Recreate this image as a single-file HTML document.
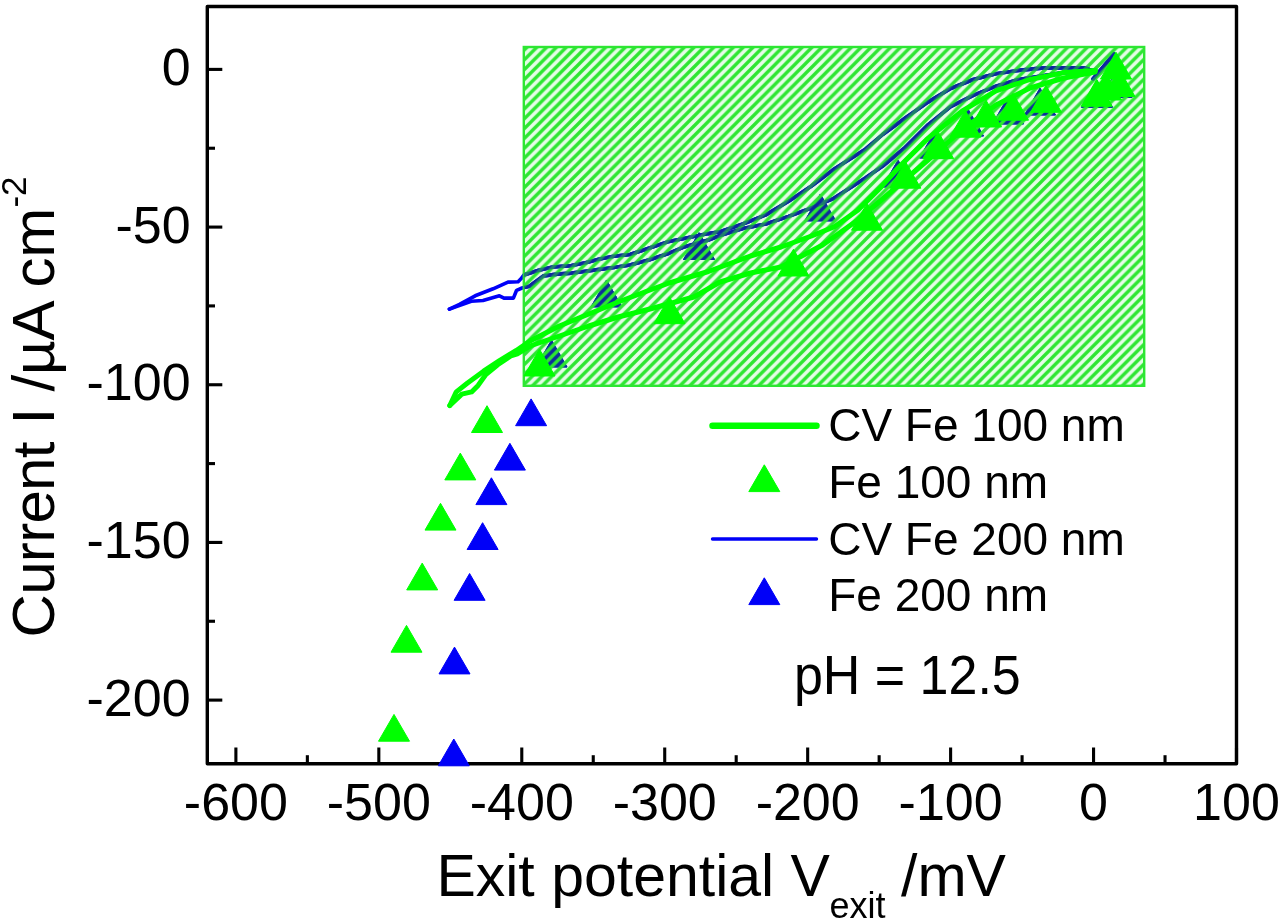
<!DOCTYPE html>
<html><head><meta charset="utf-8"><style>html,body{margin:0;padding:0;background:#fff;overflow:hidden}svg{display:block;will-change:transform}text{fill:#000}</style></head>
<body><svg width="1280" height="918" viewBox="0 0 1280 918" font-family='"Liberation Sans", sans-serif'><defs><clipPath id="boxclip"><rect x="523.8" y="47.0" width="620.4000000000001" height="338.8"/></clipPath><pattern id="hatch" patternUnits="userSpaceOnUse" width="9.83" height="9.83" patternTransform="translate(0,4.1)">
<rect x="0" y="0" width="9.83" height="9.83" fill="#00e614" fill-opacity="0.1"/><path d="M-9.83,9.83 L9.83,-9.83 M0,19.66 L19.66,0 M-9.83,19.66 L19.66,-9.83" stroke="#2de632" stroke-width="3.4"/></pattern></defs><g id="all"><rect x="0" y="0" width="1280" height="918" fill="#fff"/>
<rect x="207.3" y="6.5" width="1029.2" height="757.2" fill="none" stroke="#000" stroke-width="3.4" stroke-linejoin="round"/>
<line x1="235.89" y1="763.7" x2="235.89" y2="747.5" stroke="#000" stroke-width="3.1"/>
<text x="235.89" y="820" font-size="52" text-anchor="middle">-600</text>
<line x1="307.36" y1="763.7" x2="307.36" y2="755.2" stroke="#000" stroke-width="3.1"/>
<line x1="378.83" y1="763.7" x2="378.83" y2="747.5" stroke="#000" stroke-width="3.1"/>
<text x="378.83" y="820" font-size="52" text-anchor="middle">-500</text>
<line x1="450.31" y1="763.7" x2="450.31" y2="755.2" stroke="#000" stroke-width="3.1"/>
<line x1="521.78" y1="763.7" x2="521.78" y2="747.5" stroke="#000" stroke-width="3.1"/>
<text x="521.78" y="820" font-size="52" text-anchor="middle">-400</text>
<line x1="593.25" y1="763.7" x2="593.25" y2="755.2" stroke="#000" stroke-width="3.1"/>
<line x1="664.72" y1="763.7" x2="664.72" y2="747.5" stroke="#000" stroke-width="3.1"/>
<text x="664.72" y="820" font-size="52" text-anchor="middle">-300</text>
<line x1="736.19" y1="763.7" x2="736.19" y2="755.2" stroke="#000" stroke-width="3.1"/>
<line x1="807.67" y1="763.7" x2="807.67" y2="747.5" stroke="#000" stroke-width="3.1"/>
<text x="807.67" y="820" font-size="52" text-anchor="middle">-200</text>
<line x1="879.14" y1="763.7" x2="879.14" y2="755.2" stroke="#000" stroke-width="3.1"/>
<line x1="950.61" y1="763.7" x2="950.61" y2="747.5" stroke="#000" stroke-width="3.1"/>
<text x="950.61" y="820" font-size="52" text-anchor="middle">-100</text>
<line x1="1022.08" y1="763.7" x2="1022.08" y2="755.2" stroke="#000" stroke-width="3.1"/>
<line x1="1093.56" y1="763.7" x2="1093.56" y2="747.5" stroke="#000" stroke-width="3.1"/>
<text x="1093.56" y="820" font-size="52" text-anchor="middle">0</text>
<line x1="1165.03" y1="763.7" x2="1165.03" y2="755.2" stroke="#000" stroke-width="3.1"/>
<line x1="1236.50" y1="763.7" x2="1236.50" y2="747.5" stroke="#000" stroke-width="3.1"/>
<text x="1236.50" y="820" font-size="52" text-anchor="middle">100</text>
<line x1="207.3" y1="69.40" x2="222.3" y2="69.40" stroke="#000" stroke-width="3.1"/>
<text x="190.6" y="85.10" font-size="52" text-anchor="end">0</text>
<line x1="207.3" y1="148.24" x2="215.0" y2="148.24" stroke="#000" stroke-width="3.1"/>
<line x1="207.3" y1="227.08" x2="222.3" y2="227.08" stroke="#000" stroke-width="3.1"/>
<text x="190.6" y="242.78" font-size="52" text-anchor="end">-50</text>
<line x1="207.3" y1="305.91" x2="215.0" y2="305.91" stroke="#000" stroke-width="3.1"/>
<line x1="207.3" y1="384.75" x2="222.3" y2="384.75" stroke="#000" stroke-width="3.1"/>
<text x="190.6" y="400.45" font-size="52" text-anchor="end">-100</text>
<line x1="207.3" y1="463.59" x2="215.0" y2="463.59" stroke="#000" stroke-width="3.1"/>
<line x1="207.3" y1="542.43" x2="222.3" y2="542.43" stroke="#000" stroke-width="3.1"/>
<text x="190.6" y="558.13" font-size="52" text-anchor="end">-150</text>
<line x1="207.3" y1="621.26" x2="215.0" y2="621.26" stroke="#000" stroke-width="3.1"/>
<line x1="207.3" y1="700.10" x2="222.3" y2="700.10" stroke="#000" stroke-width="3.1"/>
<text x="190.6" y="715.80" font-size="52" text-anchor="end">-200</text>
<g id="bl" color="#0000f8"><path d="M449.4,309.1 L459.5,304.4 L475.2,295.8 L493.1,288.8 L508.0,282.1 L518.1,281.7 L521.2,278.6 L523.8,275.0 L538.8,270.3 L552.8,267.0 L571.6,265.6 L585.6,262.8 L599.7,259.1 L613.8,256.2 L630.0,254.5 L649.6,248.0 L669.2,241.4 L688.8,237.5 L708.4,233.6 L720.0,231.7 L742.9,224.0 L765.8,214.9 L788.6,201.2 L800.0,193.7 L811.5,186.0 L832.7,170.1 L865.4,149.2 L882.7,134.5 L905.3,118.0 L928.0,102.1 L950.6,88.5 L973.3,79.5 L996.0,73.8 L1018.6,70.4 L1041.2,68.1 L1064.0,67.7 L1086.5,68.1 L1095.6,72.6" fill="none" stroke="currentColor" stroke-width="3.6" stroke-linejoin="round" stroke-linecap="round"/><path d="M449.4,309.1 L471.2,301.2 L483.0,300.5 L499.4,295.8 L504.0,298.1 L513.4,298.1 L516.6,290.3 L522.0,288.0 L529.4,286.2 L543.4,275.9 L557.5,274.1 L571.6,273.1 L585.6,271.2 L599.7,269.4 L613.8,267.5 L630.0,265.0 L649.6,259.7 L669.2,253.2 L684.9,246.7 L708.4,240.1 L720.0,235.5 L742.9,228.6 L765.8,224.0 L788.6,216.4 L805.4,210.3 L820.0,204.2 L832.7,198.9 L865.4,178.0 L882.7,166.0 L905.3,147.4 L928.0,124.8 L950.6,106.6 L973.3,95.3 L996.0,86.2 L1018.6,79.5 L1041.2,76.0 L1064.0,72.6 L1086.5,71.5 L1095.0,70.0" fill="none" stroke="currentColor" stroke-width="3.6" stroke-linejoin="round" stroke-linecap="round"/><path d="M1093.0,79.0 L1104.0,66.0 L1114.0,54.0" fill="none" stroke="currentColor" stroke-width="3.6" stroke-linejoin="round" stroke-linecap="round"/><path d="M531.1,398.9L546.6,425.7L515.6,425.7Z" fill="currentColor" stroke="currentColor" stroke-width="1" stroke-linejoin="round"/><path d="M509.9,443.3L525.4,470.1L494.4,470.1Z" fill="currentColor" stroke="currentColor" stroke-width="1" stroke-linejoin="round"/><path d="M491.4,477.8L506.9,504.6L475.9,504.6Z" fill="currentColor" stroke="currentColor" stroke-width="1" stroke-linejoin="round"/><path d="M482.6,522.7L498.1,549.5L467.1,549.5Z" fill="currentColor" stroke="currentColor" stroke-width="1" stroke-linejoin="round"/><path d="M469.6,573.5L485.1,600.3L454.1,600.3Z" fill="currentColor" stroke="currentColor" stroke-width="1" stroke-linejoin="round"/><path d="M454.5,647.1L470.0,673.9L439.0,673.9Z" fill="currentColor" stroke="currentColor" stroke-width="1" stroke-linejoin="round"/><path d="M453.8,739.0L469.3,765.8L438.3,765.8Z" fill="currentColor" stroke="currentColor" stroke-width="1" stroke-linejoin="round"/><path d="M551.5,340.2L567.0,367.0L536.0,367.0Z" fill="currentColor" stroke="currentColor" stroke-width="1" stroke-linejoin="round"/><path d="M606.5,280.1L622.0,306.9L591.0,306.9Z" fill="currentColor" stroke="currentColor" stroke-width="1" stroke-linejoin="round"/><path d="M699.0,232.7L714.5,259.5L683.5,259.5Z" fill="currentColor" stroke="currentColor" stroke-width="1" stroke-linejoin="round"/><path d="M820.3,194.1L835.8,220.9L804.8,220.9Z" fill="currentColor" stroke="currentColor" stroke-width="1" stroke-linejoin="round"/><path d="M898.0,160.2L913.5,187.0L882.5,187.0Z" fill="currentColor" stroke="currentColor" stroke-width="1" stroke-linejoin="round"/><path d="M935.0,131.2L950.5,158.0L919.5,158.0Z" fill="currentColor" stroke="currentColor" stroke-width="1" stroke-linejoin="round"/><path d="M968.0,109.2L983.5,136.0L952.5,136.0Z" fill="currentColor" stroke="currentColor" stroke-width="1" stroke-linejoin="round"/><path d="M1008.0,97.2L1023.5,124.0L992.5,124.0Z" fill="currentColor" stroke="currentColor" stroke-width="1" stroke-linejoin="round"/><path d="M1040.0,88.2L1055.5,115.0L1024.5,115.0Z" fill="currentColor" stroke="currentColor" stroke-width="1" stroke-linejoin="round"/><path d="M1097.0,80.5L1112.5,107.3L1081.5,107.3Z" fill="currentColor" stroke="currentColor" stroke-width="1" stroke-linejoin="round"/><path d="M1116.5,70.7L1132.0,97.5L1101.0,97.5Z" fill="currentColor" stroke="currentColor" stroke-width="1" stroke-linejoin="round"/></g>
<g clip-path="url(#boxclip)" color="#0e1aa8"><path d="M449.4,309.1 L459.5,304.4 L475.2,295.8 L493.1,288.8 L508.0,282.1 L518.1,281.7 L521.2,278.6 L523.8,275.0 L538.8,270.3 L552.8,267.0 L571.6,265.6 L585.6,262.8 L599.7,259.1 L613.8,256.2 L630.0,254.5 L649.6,248.0 L669.2,241.4 L688.8,237.5 L708.4,233.6 L720.0,231.7 L742.9,224.0 L765.8,214.9 L788.6,201.2 L800.0,193.7 L811.5,186.0 L832.7,170.1 L865.4,149.2 L882.7,134.5 L905.3,118.0 L928.0,102.1 L950.6,88.5 L973.3,79.5 L996.0,73.8 L1018.6,70.4 L1041.2,68.1 L1064.0,67.7 L1086.5,68.1 L1095.6,72.6" fill="none" stroke="currentColor" stroke-width="3.6" stroke-linejoin="round" stroke-linecap="round"/><path d="M449.4,309.1 L471.2,301.2 L483.0,300.5 L499.4,295.8 L504.0,298.1 L513.4,298.1 L516.6,290.3 L522.0,288.0 L529.4,286.2 L543.4,275.9 L557.5,274.1 L571.6,273.1 L585.6,271.2 L599.7,269.4 L613.8,267.5 L630.0,265.0 L649.6,259.7 L669.2,253.2 L684.9,246.7 L708.4,240.1 L720.0,235.5 L742.9,228.6 L765.8,224.0 L788.6,216.4 L805.4,210.3 L820.0,204.2 L832.7,198.9 L865.4,178.0 L882.7,166.0 L905.3,147.4 L928.0,124.8 L950.6,106.6 L973.3,95.3 L996.0,86.2 L1018.6,79.5 L1041.2,76.0 L1064.0,72.6 L1086.5,71.5 L1095.0,70.0" fill="none" stroke="currentColor" stroke-width="3.6" stroke-linejoin="round" stroke-linecap="round"/><path d="M1093.0,79.0 L1104.0,66.0 L1114.0,54.0" fill="none" stroke="currentColor" stroke-width="3.6" stroke-linejoin="round" stroke-linecap="round"/><path d="M531.1,398.9L546.6,425.7L515.6,425.7Z" fill="currentColor" stroke="currentColor" stroke-width="1" stroke-linejoin="round"/><path d="M509.9,443.3L525.4,470.1L494.4,470.1Z" fill="currentColor" stroke="currentColor" stroke-width="1" stroke-linejoin="round"/><path d="M491.4,477.8L506.9,504.6L475.9,504.6Z" fill="currentColor" stroke="currentColor" stroke-width="1" stroke-linejoin="round"/><path d="M482.6,522.7L498.1,549.5L467.1,549.5Z" fill="currentColor" stroke="currentColor" stroke-width="1" stroke-linejoin="round"/><path d="M469.6,573.5L485.1,600.3L454.1,600.3Z" fill="currentColor" stroke="currentColor" stroke-width="1" stroke-linejoin="round"/><path d="M454.5,647.1L470.0,673.9L439.0,673.9Z" fill="currentColor" stroke="currentColor" stroke-width="1" stroke-linejoin="round"/><path d="M453.8,739.0L469.3,765.8L438.3,765.8Z" fill="currentColor" stroke="currentColor" stroke-width="1" stroke-linejoin="round"/><path d="M551.5,340.2L567.0,367.0L536.0,367.0Z" fill="currentColor" stroke="currentColor" stroke-width="1" stroke-linejoin="round"/><path d="M606.5,280.1L622.0,306.9L591.0,306.9Z" fill="currentColor" stroke="currentColor" stroke-width="1" stroke-linejoin="round"/><path d="M699.0,232.7L714.5,259.5L683.5,259.5Z" fill="currentColor" stroke="currentColor" stroke-width="1" stroke-linejoin="round"/><path d="M820.3,194.1L835.8,220.9L804.8,220.9Z" fill="currentColor" stroke="currentColor" stroke-width="1" stroke-linejoin="round"/><path d="M898.0,160.2L913.5,187.0L882.5,187.0Z" fill="currentColor" stroke="currentColor" stroke-width="1" stroke-linejoin="round"/><path d="M935.0,131.2L950.5,158.0L919.5,158.0Z" fill="currentColor" stroke="currentColor" stroke-width="1" stroke-linejoin="round"/><path d="M968.0,109.2L983.5,136.0L952.5,136.0Z" fill="currentColor" stroke="currentColor" stroke-width="1" stroke-linejoin="round"/><path d="M1008.0,97.2L1023.5,124.0L992.5,124.0Z" fill="currentColor" stroke="currentColor" stroke-width="1" stroke-linejoin="round"/><path d="M1040.0,88.2L1055.5,115.0L1024.5,115.0Z" fill="currentColor" stroke="currentColor" stroke-width="1" stroke-linejoin="round"/><path d="M1097.0,80.5L1112.5,107.3L1081.5,107.3Z" fill="currentColor" stroke="currentColor" stroke-width="1" stroke-linejoin="round"/><path d="M1116.5,70.7L1132.0,97.5L1101.0,97.5Z" fill="currentColor" stroke="currentColor" stroke-width="1" stroke-linejoin="round"/></g>
<rect x="523.8" y="47.0" width="620.4000000000001" height="338.8" fill="url(#hatch)" stroke="#2de632" stroke-width="2.4"/>
<g clip-path="url(#boxclip)" opacity="0.5"><path d="M449.4,309.1 L459.5,304.4 L475.2,295.8 L493.1,288.8 L508.0,282.1 L518.1,281.7 L521.2,278.6 L523.8,275.0 L538.8,270.3 L552.8,267.0 L571.6,265.6 L585.6,262.8 L599.7,259.1 L613.8,256.2 L630.0,254.5 L649.6,248.0 L669.2,241.4 L688.8,237.5 L708.4,233.6 L720.0,231.7 L742.9,224.0 L765.8,214.9 L788.6,201.2 L800.0,193.7 L811.5,186.0 L832.7,170.1 L865.4,149.2 L882.7,134.5 L905.3,118.0 L928.0,102.1 L950.6,88.5 L973.3,79.5 L996.0,73.8 L1018.6,70.4 L1041.2,68.1 L1064.0,67.7 L1086.5,68.1 L1095.6,72.6" fill="none" stroke="#0e1aa8" stroke-width="3.6" stroke-linejoin="round" stroke-linecap="round"/><path d="M449.4,309.1 L471.2,301.2 L483.0,300.5 L499.4,295.8 L504.0,298.1 L513.4,298.1 L516.6,290.3 L522.0,288.0 L529.4,286.2 L543.4,275.9 L557.5,274.1 L571.6,273.1 L585.6,271.2 L599.7,269.4 L613.8,267.5 L630.0,265.0 L649.6,259.7 L669.2,253.2 L684.9,246.7 L708.4,240.1 L720.0,235.5 L742.9,228.6 L765.8,224.0 L788.6,216.4 L805.4,210.3 L820.0,204.2 L832.7,198.9 L865.4,178.0 L882.7,166.0 L905.3,147.4 L928.0,124.8 L950.6,106.6 L973.3,95.3 L996.0,86.2 L1018.6,79.5 L1041.2,76.0 L1064.0,72.6 L1086.5,71.5 L1095.0,70.0" fill="none" stroke="#0e1aa8" stroke-width="3.6" stroke-linejoin="round" stroke-linecap="round"/><path d="M1093.0,79.0 L1104.0,66.0 L1114.0,54.0" fill="none" stroke="#0e1aa8" stroke-width="3.6" stroke-linejoin="round" stroke-linecap="round"/></g>
<path d="M449.8,405.5 L456.3,391.9 L467.2,383.2 L483.6,371.2 L499.9,360.3 L516.3,350.5 L530.0,341.0 L559.4,326.0 L588.8,314.0 L618.2,302.0 L650.0,290.0 L669.2,283.0 L708.4,271.5 L750.5,256.0 L781.0,247.0 L811.5,236.0 L834.4,226.7 L857.8,210.3 L881.2,186.9 L900.0,166.0 L928.0,138.4 L962.0,111.2 L996.0,90.8 L1030.0,79.5 L1064.0,72.6 L1095.6,70.4" fill="none" stroke="#00ff00" stroke-width="5.0" stroke-linejoin="round" stroke-linecap="round"/>
<path d="M449.8,405.5 L461.8,394.1 L471.6,391.9 L478.1,385.4 L485.8,374.5 L497.7,364.7 L510.8,356.0 L517.3,353.8 L530.0,346.0 L559.4,336.0 L588.8,326.0 L618.2,317.0 L650.0,309.0 L693.8,297.0 L720.0,282.0 L750.5,273.0 L781.0,267.0 L822.6,245.0 L857.8,220.0 L893.0,190.0 L928.0,160.0 L962.0,130.0 L996.0,105.0 L1030.0,88.0 L1064.0,78.0 L1095.0,72.0" fill="none" stroke="#00ff00" stroke-width="5.0" stroke-linejoin="round" stroke-linecap="round"/>
<path d="M487.0,405.7L502.5,432.5L471.5,432.5Z" fill="#00ff00" stroke="#00ff00" stroke-width="1" stroke-linejoin="round"/>
<path d="M460.3,453.1L475.8,479.9L444.8,479.9Z" fill="#00ff00" stroke="#00ff00" stroke-width="1" stroke-linejoin="round"/>
<path d="M440.5,503.3L456.0,530.1L425.0,530.1Z" fill="#00ff00" stroke="#00ff00" stroke-width="1" stroke-linejoin="round"/>
<path d="M422.2,563.1L437.7,589.9L406.7,589.9Z" fill="#00ff00" stroke="#00ff00" stroke-width="1" stroke-linejoin="round"/>
<path d="M406.5,625.4L422.0,652.2L391.0,652.2Z" fill="#00ff00" stroke="#00ff00" stroke-width="1" stroke-linejoin="round"/>
<path d="M394.0,714.4L409.5,741.2L378.5,741.2Z" fill="#00ff00" stroke="#00ff00" stroke-width="1" stroke-linejoin="round"/>
<path d="M539.5,349.2L555.0,376.0L524.0,376.0Z" fill="#00ff00" stroke="#00ff00" stroke-width="1" stroke-linejoin="round"/>
<path d="M669.5,296.9L685.0,323.7L654.0,323.7Z" fill="#00ff00" stroke="#00ff00" stroke-width="1" stroke-linejoin="round"/>
<path d="M793.5,249.2L809.0,276.0L778.0,276.0Z" fill="#00ff00" stroke="#00ff00" stroke-width="1" stroke-linejoin="round"/>
<path d="M867.0,203.4L882.5,230.2L851.5,230.2Z" fill="#00ff00" stroke="#00ff00" stroke-width="1" stroke-linejoin="round"/>
<path d="M905.3,161.4L920.8,188.2L889.8,188.2Z" fill="#00ff00" stroke="#00ff00" stroke-width="1" stroke-linejoin="round"/>
<path d="M938.2,131.9L953.7,158.7L922.7,158.7Z" fill="#00ff00" stroke="#00ff00" stroke-width="1" stroke-linejoin="round"/>
<path d="M965.3,110.4L980.8,137.2L949.8,137.2Z" fill="#00ff00" stroke="#00ff00" stroke-width="1" stroke-linejoin="round"/>
<path d="M986.0,100.2L1001.5,127.0L970.5,127.0Z" fill="#00ff00" stroke="#00ff00" stroke-width="1" stroke-linejoin="round"/>
<path d="M1013.0,93.4L1028.5,120.2L997.5,120.2Z" fill="#00ff00" stroke="#00ff00" stroke-width="1" stroke-linejoin="round"/>
<path d="M1046.0,85.5L1061.5,112.3L1030.5,112.3Z" fill="#00ff00" stroke="#00ff00" stroke-width="1" stroke-linejoin="round"/>
<path d="M1116.0,52.2L1131.5,79.0L1100.5,79.0Z" fill="#00ff00" stroke="#00ff00" stroke-width="1" stroke-linejoin="round"/>
<path d="M1119.5,69.7L1135.0,96.5L1104.0,96.5Z" fill="#00ff00" stroke="#00ff00" stroke-width="1" stroke-linejoin="round"/>
<path d="M1096.7,79.5L1112.2,106.3L1081.2,106.3Z" fill="#00ff00" stroke="#00ff00" stroke-width="1" stroke-linejoin="round"/>
<path d="M1106.0,73.2L1121.5,100.0L1090.5,100.0Z" fill="#00ff00" stroke="#00ff00" stroke-width="1" stroke-linejoin="round"/>
<text x="436.4" y="896" font-size="59">Exit potential V</text>
<text x="829.6" y="918" font-size="36">exit</text>
<text x="901" y="896" font-size="59">/mV</text>
<text transform="translate(54.3,637.5) rotate(-90)" font-size="60" textLength="196" lengthAdjust="spacing">Current</text>
<text transform="translate(54.3,424.5) rotate(-90)" font-size="60" textLength="216.8" lengthAdjust="spacing">I /µA cm</text>
<text transform="translate(26,207.6) rotate(-90)" font-size="35">-2</text>
<line x1="712.5" y1="425.8" x2="816.5" y2="425.8" stroke="#00ff00" stroke-width="6.5" stroke-linecap="round"/>
<text x="828.2" y="441.3" font-size="46">CV Fe 100 nm</text>
<path d="M764.3,464.8L779.8,491.6L748.8,491.6Z" fill="#00ff00" stroke="#00ff00" stroke-width="1" stroke-linejoin="round"/>
<text x="828.2" y="498.3" font-size="46">Fe 100 nm</text>
<line x1="712.5" y1="539" x2="816.5" y2="539" stroke="#0000f8" stroke-width="3.4" stroke-linecap="round"/>
<text x="828.2" y="554.6" font-size="46">CV Fe 200 nm</text>
<path d="M764.3,577.8L779.8,604.6L748.8,604.6Z" fill="#0000f8" stroke="#0000f8" stroke-width="1" stroke-linejoin="round"/>
<text x="828.2" y="611.1" font-size="46">Fe 200 nm</text>
<text transform="translate(793.9,694.3) scale(1,1.05)" font-size="52">pH = 12.5</text></g></svg></body></html>
